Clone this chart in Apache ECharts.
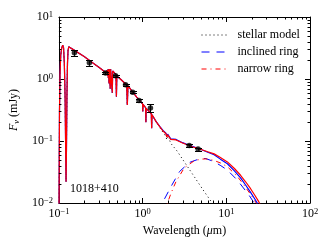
<!DOCTYPE html>
<html><head><meta charset="utf-8">
<script src="https://cdn.jsdelivr.net/npm/echarts@6/dist/echarts.min.js"></script>
<style>html,body{margin:0;padding:0;background:#fff}#c{width:330px;height:250px}</style>
</head><body><div id="c"></div>
<script>
// ---- stellar spectrum (UV/optical/near-IR), shared by all model curves ----
const specWl   = [0.1000,0.1015,0.1030,0.1050,0.1080,0.1110,0.1135,0.1160,0.1185,0.1205,0.1216,0.1228,0.1245,0.1265,0.1285,0.1310,0.1350,0.1500,0.2000,0.2500,0.3000,0.3400,0.3640,0.3720,0.3780,0.3798,0.3815,0.3835,0.3855,0.3889,0.3920,0.3970,0.4020,0.4060,0.4101,0.4145,0.4290,0.4340,0.4390,0.4800,0.4861,0.4920,0.5500,0.6450,0.6563,0.6680,0.7500,0.8500,0.9500,1.0000,1.0050,1.0100,1.0850,1.0940,1.1030,1.2700,1.2820,1.2940,1.4500];
const specFlux = [0.005,0.30,1.20,2.40,3.20,3.50,3.20,1.80,0.50,0.06,0.022,0.06,0.50,1.80,2.90,3.30,3.25,2.95,2.30,1.85,1.55,1.36,1.28,1.32,1.38,1.20,1.40,1.12,1.42,1.05,1.44,0.85,1.45,1.45,0.70,1.44,1.40,0.60,1.35,1.18,0.52,1.12,0.98,0.80,0.38,0.78,0.63,0.51,0.43,0.395,0.30,0.39,0.345,0.20,0.335,0.275,0.16,0.265,0.205];
// ---- infrared continuation of each curve ----
const starIRWl   = [1.60,1.75,1.90,1.944,1.99,2.10,2.166,2.23,2.60,3.15,4.00,4.54,5.50,6.20,7.50,9.00];
const starIRFlux = [0.165,0.138,0.118,0.105,0.114,0.103,0.092,0.097,0.068,0.046,0.0285,0.022,0.015,0.0119,0.0081,0.0057];
const narrowTotWl   = [1.60,1.75,1.90,1.944,1.99,2.10,2.166,2.23,2.51,3.00,3.46,4.00,4.54,5.00,6.00,7.15,8.50,10.3,12.5,14.8,17.0,19.5,22.0,24.4,27.0,30.0];
const narrowTotFlux = [0.170,0.145,0.131,0.116,0.126,0.118,0.106,0.112,0.104,0.093,0.086,0.080,0.076,0.073,0.067,0.062,0.054,0.046,0.036,0.028,0.022,0.017,0.0132,0.0105,0.0080,0.0060];
const inclTotWl   = [1.60,1.75,1.90,1.944,1.99,2.10,2.166,2.23,2.51,3.00,3.46,4.00,4.54,5.00,6.00,7.15,8.50,10.3,12.5,14.8,17.0,19.5,22.0,23.4,26.0];
const inclTotFlux = [0.172,0.148,0.134,0.118,0.129,0.120,0.108,0.114,0.106,0.094,0.087,0.081,0.076,0.073,0.066,0.060,0.051,0.043,0.033,0.0255,0.0195,0.0148,0.0115,0.0100,0.0075];
// ---- dust ring models ----
const narrowRingWl   = [1.80,1.98,2.19,2.50,3.15,4.14,5.00,5.70,7.00,8.60,10.3,13.5,16.0,19.5,23.0,26.0];
const narrowRingFlux = [0.0070,0.0100,0.0145,0.0220,0.0370,0.0480,0.0510,0.0515,0.0490,0.0440,0.0385,0.0270,0.0200,0.0138,0.0098,0.0075];
const inclRingWl   = [1.55,1.72,2.19,2.75,3.61,4.97,5.70,7.00,8.60,10.3,13.5,16.0,18.6,21.0,23.0,25.0];
const inclRingFlux = [0.0070,0.0100,0.0185,0.0320,0.0450,0.0525,0.0520,0.0470,0.0400,0.0340,0.0235,0.0175,0.0135,0.0105,0.0085,0.0068];
// ---- photometry ----
const photWl   = [0.153,0.231,0.36,0.475,0.625,0.76,0.905,1.24,3.6,4.6];
const photFlux = [2.65,1.83,1.25,1.13,0.81,0.61,0.45,0.34,0.085,0.074];
const photErr  = [0.29,0.20,0.05,0.04,0.03,0.025,0.02,0.05,0.004,0.004];
// ---- axes / legend ----
const xMin = 0.1, xMax = 100, yMin = 0.01, yMax = 10;
const xMinorTicks = [0.2,0.3,0.4,0.5,0.6,0.7,0.8,0.9,2,3,4,5,6,7,8,9,20,30,40,50,60,70,80,90];
const yMinorTicks = [0.02,0.03,0.04,0.05,0.06,0.07,0.08,0.09,0.2,0.3,0.4,0.5,0.6,0.7,0.8,0.9,2,3,4,5,6,7,8,9];
const legendNames = ['stellar model','inclined ring','narrow ring'];
const labelTarget = '1018+410';

const FONT = '"Liberation Serif","DejaVu Serif",serif';
function pairs(a, b){ return a.map((v,i)=>[v,b[i]]); }
const specPts = pairs(specWl, specFlux);
const starData = specPts.concat(pairs(starIRWl, starIRFlux));
const narrowTotData = specPts.concat(pairs(narrowTotWl, narrowTotFlux));
const inclTotData = specPts.concat(pairs(inclTotWl, inclTotFlux));

function powLabel(v){
  const e = Math.round(Math.log10(v));
  return '{b|10}{s|' + (e < 0 ? '\u2212' : '') + Math.abs(e) + '}';
}
const richLbl = {
  b:{fontFamily:FONT,fontSize:12,lineHeight:14,color:'#000'},
  s:{fontFamily:FONT,fontSize:8.5,lineHeight:9,verticalAlign:'top',color:'#000'}
};
function baseAxis(extra){
  return Object.assign({
    type:'log', logBase:10,
    axisLine:{show:true,lineStyle:{color:'#000',width:1}},
    axisTick:{show:true,inside:true,length:5,lineStyle:{color:'#000',width:1}},
    splitLine:{show:false}, minorTick:{show:false}
  }, extra);
}

const chart = echarts.init(document.getElementById('c'), null, {renderer:'canvas'});
chart.setOption({
  animation:false,
  backgroundColor:'#fff',
  grid:{left:57,right:20,top:17,bottom:47,containLabel:false},
  legend:{
    data:legendNames,
    orient:'vertical', left:196, top:24, itemWidth:26, itemHeight:10, itemGap:5,
    selectedMode:false,
    itemStyle:{opacity:0,borderWidth:0},
    lineStyle:{width:1},
    textStyle:{fontFamily:FONT,fontSize:12,color:'#000',padding:[0,0,0,5]}
  },
  xAxis:[
    baseAxis({position:'bottom',min:xMin,max:xMax,
      axisLabel:{formatter:powLabel,rich:richLbl,margin:4},
      name:'{n|Wavelength (}{i|\u03bc}{n|m)}',nameLocation:'middle',nameGap:21,
      nameTextStyle:{rich:{n:{fontFamily:FONT,fontSize:12,color:'#000'},i:{fontFamily:FONT,fontSize:12,fontStyle:'italic',color:'#000'}}}}),
    baseAxis({position:'top',min:xMin,max:xMax,axisLabel:{show:false}})
  ],
  yAxis:[
    baseAxis({position:'left',min:yMin,max:yMax,
      axisLabel:{formatter:powLabel,rich:richLbl,margin:6},
      name:'{i|F}{sub|\u03bd}{n| (mJy)}',nameLocation:'middle',nameGap:33,
      nameTextStyle:{rich:{
        i:{fontFamily:FONT,fontSize:12,fontStyle:'italic',color:'#000',lineHeight:14},
        sub:{fontFamily:FONT,fontSize:8.5,fontStyle:'italic',color:'#000',lineHeight:8,verticalAlign:'bottom'},
        n:{fontFamily:FONT,fontSize:12,color:'#000',lineHeight:14}}}}),
    baseAxis({position:'right',min:yMin,max:yMax,axisLabel:{show:false}})
  ],
  graphic:[{type:'text',left:70,top:183,style:{text:labelTarget,font:'12px '+FONT,fill:'#000'}}],
  series:[
    {name:legendNames[0],type:'line',data:starData,symbol:'none',showSymbol:false,z:2,
      lineStyle:{color:'#000',width:1,type:[1,3]},itemStyle:{color:'#000'}},
    {name:legendNames[1],type:'line',data:pairs(inclRingWl,inclRingFlux),symbol:'none',showSymbol:false,z:3,
      lineStyle:{color:'#0000ff',width:1,type:[8,7]},itemStyle:{color:'#0000ff'}},
    {name:legendNames[2],type:'line',data:pairs(narrowRingWl,narrowRingFlux),symbol:'none',showSymbol:false,z:3,
      lineStyle:{color:'#ff0000',width:1,type:[5,4,1,4]},itemStyle:{color:'#ff0000'}},
    {name:'inclined total',type:'line',data:inclTotData,symbol:'none',showSymbol:false,z:4,
      lineStyle:{color:'#0000ff',width:1.2}},
    {name:'narrow total',type:'line',data:narrowTotData,symbol:'none',showSymbol:false,z:5,
      lineStyle:{color:'#ff0000',width:1.2}},
    {name:'errors',type:'custom',z:6,silent:true,clip:false,
      data:photWl.map((w,i)=>[w,photFlux[i],photErr[i]]),
      renderItem:function(params,api){
        const w=api.value(0), f=api.value(1), e=api.value(2);
        const lo=api.coord([w,f-e]), hi=api.coord([w,f+e]);
        const x=Math.round(lo[0])+0.5;
        const st={stroke:'#000',lineWidth:1};
        return {type:'group',children:[
          {type:'line',shape:{x1:x,y1:lo[1],x2:x,y2:hi[1]},style:st},
          {type:'line',shape:{x1:x-3.5,y1:Math.round(lo[1])+0.5,x2:x+3.5,y2:Math.round(lo[1])+0.5},style:st},
          {type:'line',shape:{x1:x-3.5,y1:Math.round(hi[1])+0.5,x2:x+3.5,y2:Math.round(hi[1])+0.5},style:st}
        ]};
      }},
    {name:'photometry',type:'scatter',z:7,data:pairs(photWl,photFlux),symbol:'circle',symbolSize:5.5,
      itemStyle:{color:'#000'}},
    {name:'xminor',type:'custom',z:8,silent:true,clip:false,
      data:xMinorTicks.map(v=>[v,1]),
      renderItem:function(params,api){
        const v=api.value(0);
        const b=api.coord([v,yMin]), t=api.coord([v,yMax]);
        const x=Math.round(b[0])+0.5;
        const st={stroke:'#000',lineWidth:1};
        return {type:'group',children:[
          {type:'line',shape:{x1:x,y1:b[1],x2:x,y2:b[1]-2.5},style:st},
          {type:'line',shape:{x1:x,y1:t[1],x2:x,y2:t[1]+2.5},style:st}
        ]};
      }},
    {name:'yminor',type:'custom',z:8,silent:true,clip:false,
      data:yMinorTicks.map(v=>[1,v]),
      renderItem:function(params,api){
        const v=api.value(1);
        const l=api.coord([xMin,v]), r=api.coord([xMax,v]);
        const y=Math.round(l[1])+0.5;
        const st={stroke:'#000',lineWidth:1};
        return {type:'group',children:[
          {type:'line',shape:{x1:l[0],y1:y,x2:l[0]+2.5,y2:y},style:st},
          {type:'line',shape:{x1:r[0],y1:y,x2:r[0]-2.5,y2:y},style:st}
        ]};
      }}
  ]
});
</script></body></html>
